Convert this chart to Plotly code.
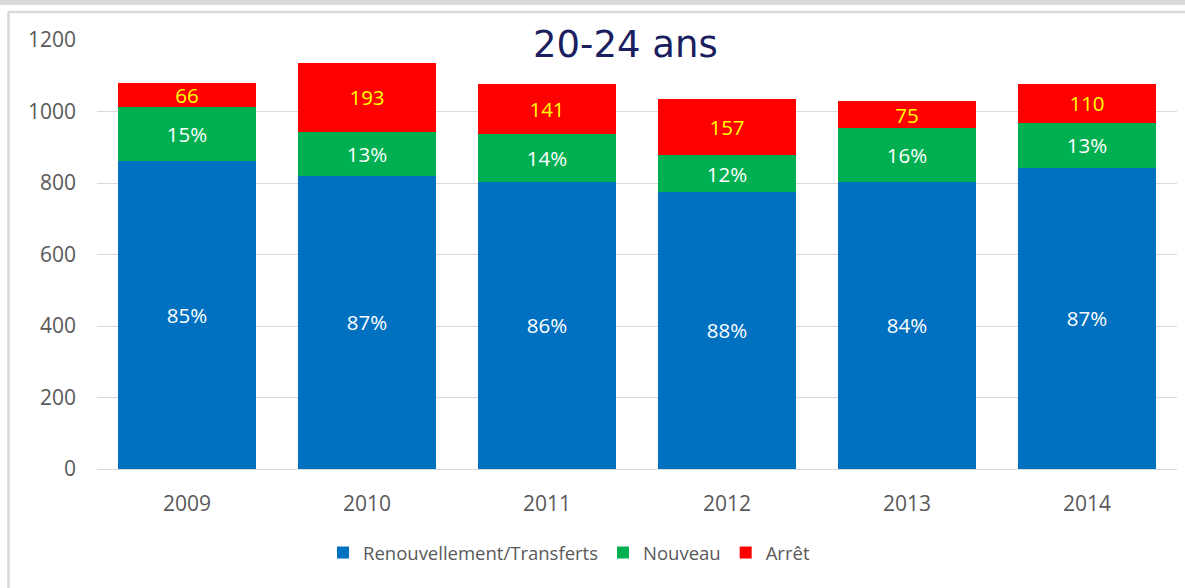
import plotly.graph_objects as go

years = ["2009", "2010", "2011", "2012", "2013", "2014"]
renouvellement = [861, 820, 804, 775, 803, 843]
nouveau = [152, 123, 133, 103, 151, 125]
arret = [66, 193, 141, 157, 75, 110]
renouv_labels = ["85%", "87%", "86%", "88%", "84%", "87%"]
nouveau_labels = ["15%", "13%", "14%", "12%", "16%", "13%"]
arret_labels = [str(v) for v in arret]

W, H = 1185, 588
L, R, T, B = 97, 8, 40, 119
pw, ph = W - L - R, H - T - B

def px(x):
    return (x - L) / pw

def py(y):
    return (H - B - y) / ph

label_font = dict(family="Open Sans, Verdana, DejaVu Sans", size=20.5)

fig = go.Figure()
fig.add_trace(go.Bar(x=years, y=renouvellement, name="Renouvellement/Transferts",
                     marker=dict(color="#0070C0", line=dict(width=0)),
                     text=renouv_labels, textposition="inside", insidetextanchor="middle",
                     textangle=0, textfont=dict(color="white", **label_font), hoverinfo="y"))
fig.add_trace(go.Bar(x=years, y=nouveau, name="Nouveau",
                     marker=dict(color="#00B050", line=dict(width=0)),
                     text=nouveau_labels, textposition="inside", insidetextanchor="middle",
                     textangle=0, textfont=dict(color="white", **label_font), hoverinfo="y"))
fig.add_trace(go.Bar(x=years, y=arret, name="Arrêt",
                     marker=dict(color="#FF0000", line=dict(width=0)),
                     text=arret_labels, textposition="inside", insidetextanchor="middle",
                     textangle=0, textfont=dict(color="#FFFF00", **label_font), hoverinfo="y"))

shapes = [
    dict(type="rect", xref="paper", yref="paper", x0=px(-2), x1=px(W + 2), y0=py(0), y1=py(5),
         fillcolor="#D9D9D9", line=dict(width=0), layer="below"),
    dict(type="line", xref="paper", yref="paper", x0=px(8), x1=px(W + 2), y0=py(12), y1=py(12),
         line=dict(color="#D9D9D9", width=2.5), layer="below"),
    dict(type="line", xref="paper", yref="paper", x0=px(8.5), x1=px(8.5), y0=py(12), y1=py(H + 2),
         line=dict(color="#D9D9D9", width=2.5), layer="below"),
]

fig.update_layout(
    width=W, height=H,
    margin=dict(l=L, r=R, t=T, b=B, pad=0),
    barmode="stack", bargap=0.233,
    plot_bgcolor="white", paper_bgcolor="white",
    font=dict(family="Open Sans, DejaVu Sans", color="#595959", size=19),
    uniformtext=dict(minsize=20.5, mode="show"),
    showlegend=True,
    legend=dict(orientation="h", xanchor="left", yanchor="middle",
                x=px(323), y=py(553), font=dict(size=18.5, color="#595959"),
                traceorder="normal", itemclick=False),
    shapes=shapes,
    annotations=[dict(text="20-24 ans", xref="paper", yref="paper", x=px(625), y=py(44),
                      xanchor="center", yanchor="middle", showarrow=False,
                      font=dict(family="Verdana, DejaVu Sans", size=37, color="#1B1F5F"))],
)
fig.update_yaxes(range=[0, 1200], dtick=200, showgrid=True, gridcolor="#D9D9D9", gridwidth=1.3,
                 zeroline=True, zerolinecolor="#D9D9D9", zerolinewidth=1.3, showline=False,
                 ticks="", ticklabelstandoff=20, tickfont=dict(size=21, color="#595959"))
fig.update_xaxes(showgrid=False, showline=False, ticks="", ticklabelstandoff=20,
                 tickfont=dict(size=21, color="#595959"))

fig.write_html("out.html", config={"displayModeBar": False},
               post_script="document.body.style.margin='0';document.body.style.overflow='hidden';")
